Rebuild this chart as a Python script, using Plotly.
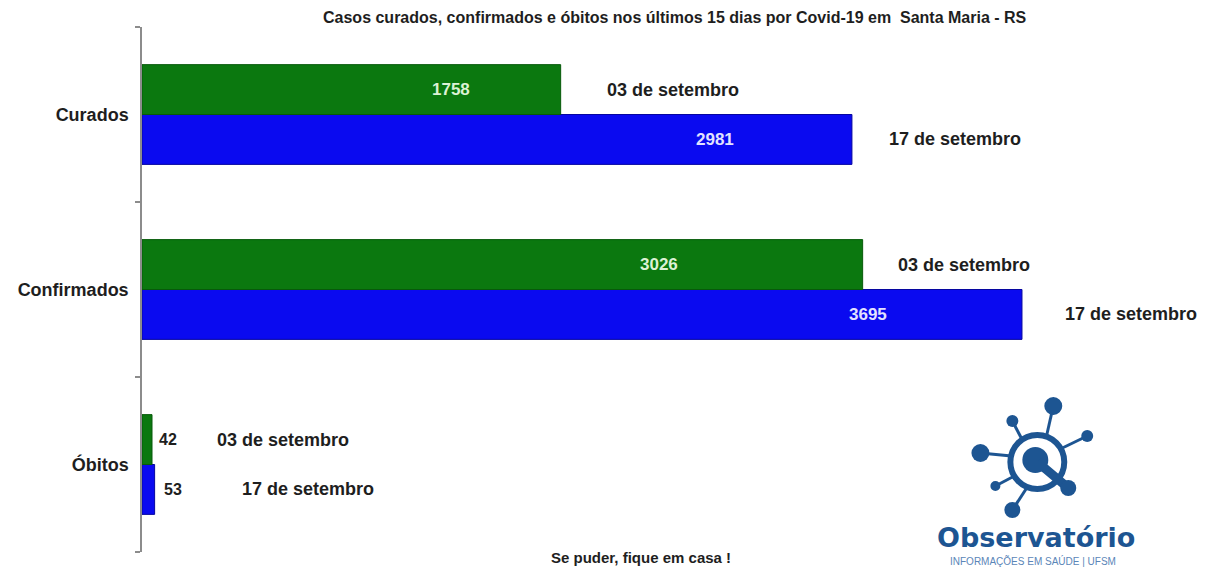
import plotly.graph_objects as go

categories = ["Óbitos", "Confirmados", "Curados"]
values_03 = [42, 3026, 1758]
values_17 = [53, 3695, 2981]
series_names = ["03 de setembro", "17 de setembro"]
title_text = "Casos curados, confirmados e óbitos nos últimos 15 dias por Covid-19 em  Santa Maria - RS"
footer_text = "Se puder, fique em casa !"

GREEN = "#0b780f"
BLUE = "#0a0af0"
FONT = "Liberation Sans, Arial, sans-serif"
TXT = "#1e1e1e"

OFF = 8  # page body margin
W_FIG, H_FIG = 1216 - OFF, 567 - OFF
ML, MR, MT, MB = 140 - OFF, 10, 27 - OFF, 15
PW = W_FIG - ML - MR
PH = H_FIG - MT - MB

fig = go.Figure()
fig.add_trace(go.Bar(y=categories, x=values_17, orientation="h", name=series_names[1],
                     marker=dict(color=BLUE, line=dict(color="#0606a0", width=1))))
fig.add_trace(go.Bar(y=categories, x=values_03, orientation="h", name=series_names[0],
                     marker=dict(color=GREEN, line=dict(color="#075a0a", width=1))))

half = 0.1425
# label offsets (px from bar end), by category index
inside_shift_03 = {1: -204, 2: -110}
inside_shift_17 = {1: -154, 2: -137}
outside_shift_03 = {0: 5}
outside_shift_17 = {0: 7}
date_shift_03 = {0: 63, 1: 33, 2: 44}
date_shift_17 = {0: 85, 1: 41, 2: 35}

anns = []
for i, cat in enumerate(categories):
    for vals, sign, ins, outs, dsh, nm, lc in [
        (values_03, 1, inside_shift_03, outside_shift_03, date_shift_03, series_names[0], "#dcf2d4"),
        (values_17, -1, inside_shift_17, outside_shift_17, date_shift_17, series_names[1], "#e2e2ff"),
    ]:
        v = vals[i]
        yy = i + sign * half
        if i in ins:
            anns.append(dict(x=v, y=yy, xref="x", yref="y", text="<b>%d</b>" % v, showarrow=False,
                             xshift=ins[i], xanchor="center", font=dict(family=FONT, size=17, color=lc)))
        else:
            anns.append(dict(x=v, y=yy, xref="x", yref="y", text="<b>%d</b>" % v, showarrow=False,
                             xshift=outs[i], xanchor="left", font=dict(family=FONT, size=16, color=TXT)))
        anns.append(dict(x=v, y=yy, xref="x", yref="y", text="<b>%s</b>" % nm, showarrow=False,
                         xshift=dsh[i], xanchor="left", font=dict(family=FONT, size=18, color=TXT)))

def px(x):
    return (x - OFF - ML) / PW

def py(y):
    return 1 - (y - OFF - MT) / PH

anns.append(dict(x=px(674), y=py(17), xref="paper", yref="paper", text="<b>%s</b>" % title_text,
                 showarrow=False, xanchor="center", yanchor="middle",
                 font=dict(family=FONT, size=16, color=TXT)))
anns.append(dict(x=px(640), y=py(557), xref="paper", yref="paper", text="<b>%s</b>" % footer_text,
                 showarrow=False, xanchor="center", yanchor="middle",
                 font=dict(family=FONT, size=15, color=TXT)))
LOGO = "#1d5592"
anns.append(dict(x=px(1036), y=py(537), xref="paper", yref="paper", text="<b>Observatório</b>",
                 showarrow=False, xanchor="center", yanchor="middle", borderpad=0,
                 font=dict(family="DejaVu Sans, sans-serif", size=27, color=LOGO)))
anns.append(dict(x=px(1033), y=py(561), xref="paper", yref="paper", text="INFORMAÇÕES EM SAÚDE | UFSM",
                 showarrow=False, xanchor="center", yanchor="middle", borderpad=0,
                 font=dict(family=FONT, size=10, color="#5b86b8")))

shapes = []
def circ(cx, cy, r, fill=True, lw=0):
    d = dict(type="circle", xref="paper", yref="paper",
             x0=px(cx - r), x1=px(cx + r), y0=py(cy + r), y1=py(cy - r), layer="above")
    if fill:
        d.update(fillcolor=LOGO, line=dict(width=0))
    else:
        d.update(line=dict(color=LOGO, width=lw))
    shapes.append(d)

def seg(x0, y0, x1, y1, lw):
    shapes.append(dict(type="line", xref="paper", yref="paper", x0=px(x0), y0=py(y0),
                       x1=px(x1), y1=py(y1), line=dict(color=LOGO, width=lw), layer="above"))

cx, cy = 1037, 462
circ(cx, cy, 27, fill=False, lw=6)
for (ex, ey, er, sx, sy) in [(1053, 406, 9, 1046, 437), (1012, 421, 6, 1022, 440),
                             (980, 453, 9, 1011, 456), (1087, 436, 6, 1060, 449),
                             (995, 486, 5, 1014, 476), (1012, 510, 8, 1027, 487)]:
    seg(sx, sy, ex, ey, 3)
    circ(ex, ey, er)
circ(cx - 2, cy - 2, 13)
seg(cx, cy, 1068, 488, 9)
circ(1068, 488, 8)

fig.update_layout(
    width=W_FIG, height=H_FIG,
    margin=dict(l=ML, r=MR, t=MT, b=MB),
    paper_bgcolor="white", plot_bgcolor="white",
    barmode="group", bargap=0.43, bargroupgap=0,
    showlegend=False,
    xaxis=dict(range=[0, PW / 0.2386], visible=False, fixedrange=True),
    yaxis=dict(range=[-0.5, 2.5], showline=True, linecolor="#8c8c8c", linewidth=1.5,
               ticks="outside", tickson="boundaries", ticklen=5, tickcolor="#8c8c8c",
               tickwidth=1.5, showgrid=False, zeroline=False, ticklabelstandoff=8,
               tickfont=dict(family=FONT, size=18, color=TXT, weight="bold")),
    annotations=anns, shapes=shapes,
)
for tr in fig.data:
    tr.cliponaxis = False

fig.write_html("out.html")
